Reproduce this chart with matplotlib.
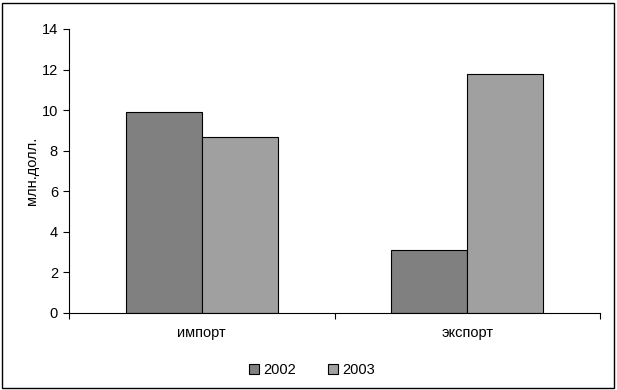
import matplotlib
matplotlib.use("Agg")
import matplotlib.pyplot as plt
import numpy as np
from matplotlib.patches import Rectangle

plt.rcParams['font.family'] = ['Liberation Sans', 'DejaVu Sans']

categories = ["импорт", "экспорт"]
series_names = ["2002", "2003"]
values_2002 = [9.9, 3.1]
values_2003 = [8.7, 11.8]
colors = ["#808080", "#a0a0a0"]

fs = 10.5

fig = plt.figure(figsize=(6.17, 3.90), dpi=100)
ax = fig.add_axes([69/617, 1-313/390, 531/617, 284/390])

x = np.arange(len(categories))
w = 0.286
ax.bar(x - w/2, values_2002, w, color=colors[0], edgecolor="black", linewidth=0.8, label=series_names[0])
ax.bar(x + w/2, values_2003, w, color=colors[1], edgecolor="black", linewidth=0.8, label=series_names[1])

ax.set_xlim(-0.5, len(categories) - 0.5)
ax.set_ylim(0, 14)
ax.set_yticks(np.arange(0, 15, 2))
ax.set_xticks(x)
ax.set_xticklabels(categories, fontsize=fs)
ax.tick_params(axis='x', length=0, pad=9)
ax.set_xticks(np.arange(-0.5, len(categories)), minor=True)
ax.tick_params(axis='x', which='minor', length=4, width=0.8, direction='out')
ax.tick_params(axis='y', labelsize=fs, length=4, width=0.8, direction='out', pad=4)
for s in ["top", "right"]:
    ax.spines[s].set_visible(False)
for s in ["left", "bottom"]:
    ax.spines[s].set_linewidth(0.8)
ax.set_ylabel("млн.долл.", fontsize=fs, labelpad=2)

leg = fig.legend(loc="center", bbox_to_anchor=(312/617, 1-370/390), ncol=2, frameon=False,
                 fontsize=fs, handlelength=0.7, handleheight=0.7, handletextpad=0.3,
                 columnspacing=2.2)

fig.add_artist(Rectangle((2/617, 2/390), 612/617, 385/390, transform=fig.transFigure,
                         fill=False, edgecolor="black", linewidth=1.0))

fig.savefig("out.png", dpi=100)
